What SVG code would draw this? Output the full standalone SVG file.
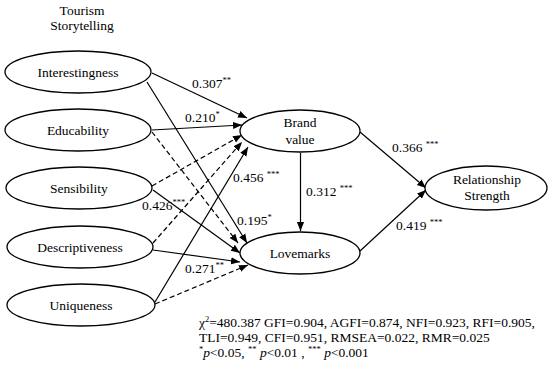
<svg xmlns="http://www.w3.org/2000/svg" width="550" height="371" viewBox="0 0 550 371">
<style>
text{font-family:'Liberation Serif','DejaVu Serif',serif;font-size:13.5px;fill:#000}
.n ellipse{fill:#fff;stroke:#000;stroke-width:1.3}
.n text{text-anchor:middle}
.c line{stroke:#000;stroke-width:1.2;marker-end:url(#ah)}
.c .d{stroke-dasharray:5 3}
.s{font-size:8.5px}
</style>
<defs>
<marker id="ah" viewBox="0 0 10 10" refX="10" refY="5" markerWidth="9" markerHeight="9" markerUnits="userSpaceOnUse" orient="auto">
<path d="M0,1 L10,5 L0,9 Z" fill="#000"/>
</marker>
</defs>
<text x="82" y="15" text-anchor="middle">Tourism</text>
<text x="82" y="30" text-anchor="middle">Storytelling</text>
<g class="c">
<line x1="152" y1="73" x2="247" y2="118"/>
<line x1="147" y1="82" x2="247" y2="243"/>
<line x1="152" y1="130" x2="242" y2="125"/>
<line class="d" x1="152" y1="132" x2="238" y2="243"/>
<line class="d" x1="152" y1="186" x2="242" y2="135"/>
<line x1="153" y1="190" x2="240" y2="253"/>
<line class="d" x1="153" y1="243" x2="242" y2="142"/>
<line x1="153" y1="250" x2="240" y2="262"/>
<line x1="155" y1="302" x2="248" y2="147"/>
<line class="d" x1="155" y1="304" x2="248" y2="265"/>
<line x1="300.5" y1="153" x2="300.5" y2="231"/>
<line x1="360" y1="132" x2="426" y2="188"/>
<line x1="360" y1="251" x2="426" y2="190"/>
</g>
<g id="interestingness" class="n"><ellipse cx="78" cy="72" rx="73" ry="21"/><text x="78" y="77">Interestingness</text></g>
<g id="educability" class="n"><ellipse cx="78" cy="130" rx="73" ry="21"/><text x="78" y="135">Educability</text></g>
<g id="sensibility" class="n"><ellipse cx="79" cy="188" rx="73" ry="21"/><text x="79" y="193">Sensibility</text></g>
<g id="descriptiveness" class="n"><ellipse cx="80" cy="247" rx="73" ry="21"/><text x="80" y="252">Descriptiveness</text></g>
<g id="uniqueness" class="n"><ellipse cx="81" cy="305" rx="74" ry="21"/><text x="81" y="310">Uniqueness</text></g>
<g id="brand-value" class="n"><ellipse cx="300" cy="131" rx="60" ry="21"/><text x="300" y="127">Brand</text><text x="300" y="144">value</text></g>
<g id="lovemarks" class="n"><ellipse cx="300" cy="253" rx="60" ry="21"/><text x="300" y="258">Lovemarks</text></g>
<g id="relationship-strength" class="n"><ellipse cx="486" cy="188" rx="61" ry="22"/><text x="487" y="184">Relationship</text><text x="487" y="200">Strength</text></g>
<g id="labels">
<text x="192" y="88">0.307<tspan class="s" dy="-5">**</tspan></text>
<text x="185" y="122">0.210<tspan class="s" dy="-5">*</tspan></text>
<text x="233" y="182">0.456 <tspan class="s" dy="-5">***</tspan></text>
<text x="142" y="210">0.426<tspan class="s" dy="-5">***</tspan></text>
<text x="237" y="225">0.195<tspan class="s" dy="-5">*</tspan></text>
<text x="185" y="273">0.271<tspan class="s" dy="-5">**</tspan></text>
<text x="392" y="152">0.366 <tspan class="s" dy="-5">***</tspan></text>
<text x="306" y="196">0.312 <tspan class="s" dy="-5">***</tspan></text>
<text x="396" y="230">0.419 <tspan class="s" dy="-5">***</tspan></text>
</g>
<g id="footer">
<text x="199" y="327">χ<tspan class="s" dy="-5">2</tspan><tspan dy="5">=480.387 GFI=0.904, AGFI=0.874, NFI=0.923, RFI=0.905,</tspan></text>
<text x="199" y="342">TLI=0.949, CFI=0.951, RMSEA=0.022, RMR=0.025</text>
<text x="199" y="357"><tspan class="s" dy="-5">*</tspan><tspan dy="5" font-style="italic">p</tspan>&lt;0.05, <tspan class="s" dy="-5">**</tspan><tspan dy="5"> </tspan><tspan font-style="italic">p</tspan>&lt;0.01 , <tspan class="s" dy="-5">***</tspan><tspan dy="5"> </tspan><tspan font-style="italic">p</tspan>&lt;0.001</text>
</g>
</svg>
